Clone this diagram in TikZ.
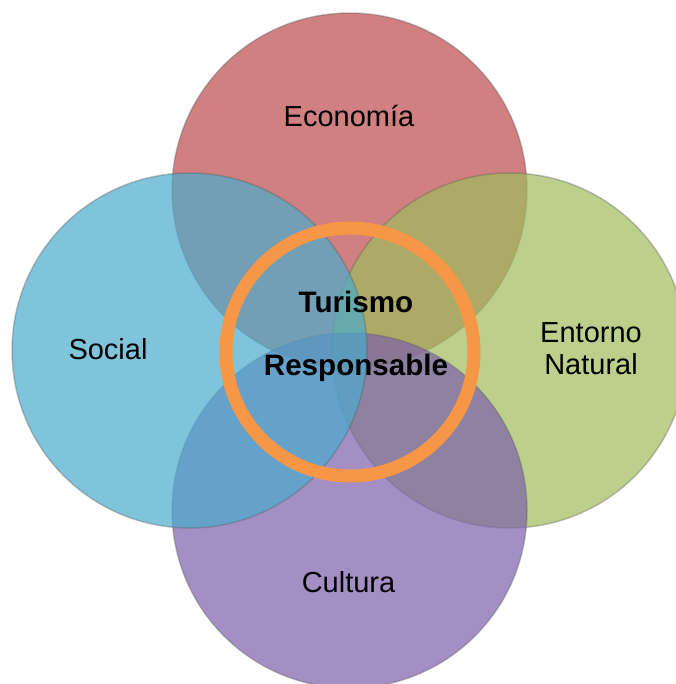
\documentclass[tikz,border=0pt]{standalone}
\usepackage{fontspec}
\setmainfont{Liberation Sans}
\definecolor{ecofill}{RGB}{188,74,74}
\definecolor{natfill}{RGB}{159,188,91}
\definecolor{culfill}{RGB}{125,96,171}
\definecolor{socfill}{RGB}{74,171,205}
\definecolor{rimcol}{RGB}{90,90,90}
\definecolor{ringcol}{RGB}{247,150,70}
\begin{document}
\begin{tikzpicture}[x=1pt,y=-1pt,
  venn/.style={circle, minimum size=355pt, inner sep=0pt, fill opacity=0.7,
    draw=rimcol, draw opacity=0.35, line width=1.5pt},
  lbl/.style={font=\fontsize{29}{32}\selectfont, align=center, inner sep=0pt},
  blbl/.style={font=\fontsize{29.6}{33}\selectfont\bfseries, align=center, inner sep=0pt}]
\useasboundingbox (0,0) rectangle (675,684);
\node[venn, fill=ecofill] (eco) at (349.5,190.5) {};
\node[venn, fill=natfill] (nat) at (509.5,350.5) {};
\node[venn, fill=culfill] (cul) at (349.5,510.5) {};
\node[venn, fill=socfill] (soc) at (189.5,350.5) {};
\node[circle, draw=ringcol, line width=13pt, minimum size=248pt, inner sep=0pt] (ring) at (350,352) {};
\node[lbl] (teco) at (349,116) {Economía};
\node[lbl] (tsoc) at (108,349) {Social};
\node[lbl] (tnat) at (591,349) {Entorno\\Natural};
\node[lbl] (tcul) at (348.5,582) {Cultura};
\node[blbl] (ttur) at (356,302) {Turismo};
\node[blbl] (tres) at (356,368) {Responsable};
\end{tikzpicture}
\end{document}
